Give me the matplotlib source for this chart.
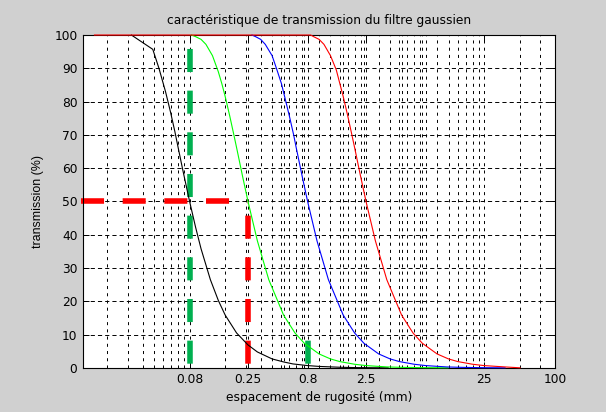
import matplotlib.pyplot as plt

plt.rcParams['font.family'] = ['DejaVu Sans']
plt.rcParams['lines.scale_dashes'] = False

# cut-off values (mm) and tick labels
cutoffs = [0.08, 0.25, 0.8, 2.5]
xtick_vals = [0.08, 0.25, 0.8, 2.5, 25, 100]
xtick_labels = ['0.08', '0.25', '0.8', '2.5', '25', '100']
ytick_vals = list(range(0, 101, 10))

# curves: spacing (mm) -> transmission (%)
x_008 = [0.0257, 0.039, 0.044, 0.05, 0.055, 0.06, 0.065, 0.07, 0.075, 0.08, 0.09, 0.1,
         0.12, 0.14, 0.16, 0.2, 0.25, 0.3, 0.4, 0.5, 0.6, 0.8, 1.0, 1.5, 2.0, 3.0, 3.85]
t_008 = [100, 95.7, 90, 83, 77, 71, 65, 59.5, 54.6, 50, 42.2, 35.8,
         26.5, 20.3, 15.9, 10.5, 6.9, 4.8, 2.7, 1.8, 1.2, 0.7, 0.45, 0.2, 0.1, 0.05, 0.03]

x_025 = [0.083, 0.09, 0.1, 0.11, 0.125, 0.14, 0.15, 0.16, 0.175, 0.19, 0.2, 0.225, 0.25,
         0.3, 0.375, 0.5, 0.625, 0.75, 1.0, 1.25, 1.5, 2.0, 2.5, 3.75, 5.0, 8.0, 12.4]
t_025 = [100, 99.5, 98.7, 97.2, 93.8, 89, 85.4, 81.6, 75.7, 69.9, 66.2, 57.5, 50,
         38.2, 26.5, 15.9, 10.5, 7.4, 4.2, 2.7, 1.9, 1.1, 0.7, 0.3, 0.17, 0.07, 0.03]

x_08 = [0.27, 0.29, 0.32, 0.35, 0.4, 0.44, 0.48, 0.51, 0.56, 0.61, 0.64, 0.72, 0.8,
        0.96, 1.2, 1.6, 2.0, 2.4, 3.2, 4.0, 4.8, 6.4, 8.0, 12.0, 16.0, 25.0, 37.7]
t_08 = [100, 99.5, 98.7, 97.2, 93.8, 89.5, 85.4, 81.6, 75.7, 69.9, 66.2, 57.5, 50,
        38.2, 26.5, 15.9, 10.5, 7.4, 4.2, 2.7, 1.9, 1.1, 0.7, 0.3, 0.17, 0.07, 0.03]

x_25 = [0.0125, 0.85, 0.9, 1.0, 1.1, 1.25, 1.4, 1.5, 1.6, 1.75, 1.9, 2.0, 2.25, 2.5,
        3.0, 3.75, 5.0, 6.25, 7.5, 10.0, 12.5, 15.0, 20.0, 25.0, 37.5, 50.5]
t_25 = [100, 100, 99.5, 98.7, 97.2, 93.8, 89.5, 85.4, 81.6, 75.7, 69.9, 66.2, 57.5, 50,
        38.2, 26.5, 15.9, 10.5, 7.4, 4.2, 2.7, 1.9, 1.1, 0.7, 0.3, 0.03]

fig = plt.figure(figsize=(6.06, 4.12), dpi=100, facecolor='#d0d0d0')
ax = fig.add_axes([0.137, 0.107, 0.779, 0.808])
ax.set_facecolor('white')
ax.set_xscale('log')
ax.set_xlim(0.01, 100)
ax.set_ylim(0, 100)

# overlapping log grids (one anchored on 0.08, one on 0.25)
grid_a = [k * 0.008 * 10 ** n for n in range(3) for k in range(2, 11)]
grid_b = [k * 0.025 * 10 ** n for n in range(1, 4) for k in range(1, 11)]
vgrid = sorted(set([round(v, 6) for v in grid_a if 0.01 < v <= 8] +
                   [round(v, 6) for v in grid_b if 0.25 <= v < 100]))
for v in vgrid:
    ax.axvline(v, color='black', lw=0.7, ls=(0, (2.2, 3.0)), zorder=1)
for h in ytick_vals[1:-1]:
    ax.axhline(h, color='black', lw=0.7, ls=(0, (3.0, 2.2)), zorder=1)

# thick dashed markers for the cut-offs
dash = (16.6, 13.4)
vdash = (26.9, dash)
ax.plot([0.0097, cutoffs[1]], [50, 50], color='#ff0000', lw=4, ls=(0, dash),
        zorder=2, clip_on=False)
ax.plot([cutoffs[0], cutoffs[0]], [0, 100], color='#00b050', lw=4, ls=vdash, zorder=2)
ax.plot([cutoffs[1], cutoffs[1]], [0, 50], color='#ff0000', lw=4, ls=vdash, zorder=2)
ax.plot([cutoffs[2], cutoffs[2]], [0, 10], color='#00b050', lw=4, ls=vdash, zorder=2)

# transmission curves
ax.plot(x_008, t_008, color='black', lw=0.8, zorder=3, clip_on=False)
ax.plot(x_025, t_025, color='#00ff00', lw=0.8, zorder=3, clip_on=False)
ax.plot(x_08, t_08, color='#0000ff', lw=0.8, zorder=3, clip_on=False)
ax.plot(x_25, t_25, color='#ff0000', lw=0.8, zorder=3, clip_on=False)

ax.set_xticks(xtick_vals)
ax.set_xticklabels(xtick_labels)
ax.xaxis.set_minor_locator(plt.NullLocator())
ax.set_yticks(ytick_vals)
ax.tick_params(direction='in', top=True, right=True, length=4, width=0.7,
               labelsize=8.8, pad=4)
for s in ax.spines.values():
    s.set_linewidth(0.8)
    s.set_zorder(2.5)

ax.set_title('caractéristique de transmission du filtre gaussien', fontsize=8.8, pad=8)
ax.set_xlabel('espacement de rugosité (mm)', fontsize=8.8, labelpad=3)
ax.set_ylabel('transmission (%)', fontsize=8.9, labelpad=7, family='Liberation Sans')

fig.savefig('out.png', dpi=100, facecolor=fig.get_facecolor())
